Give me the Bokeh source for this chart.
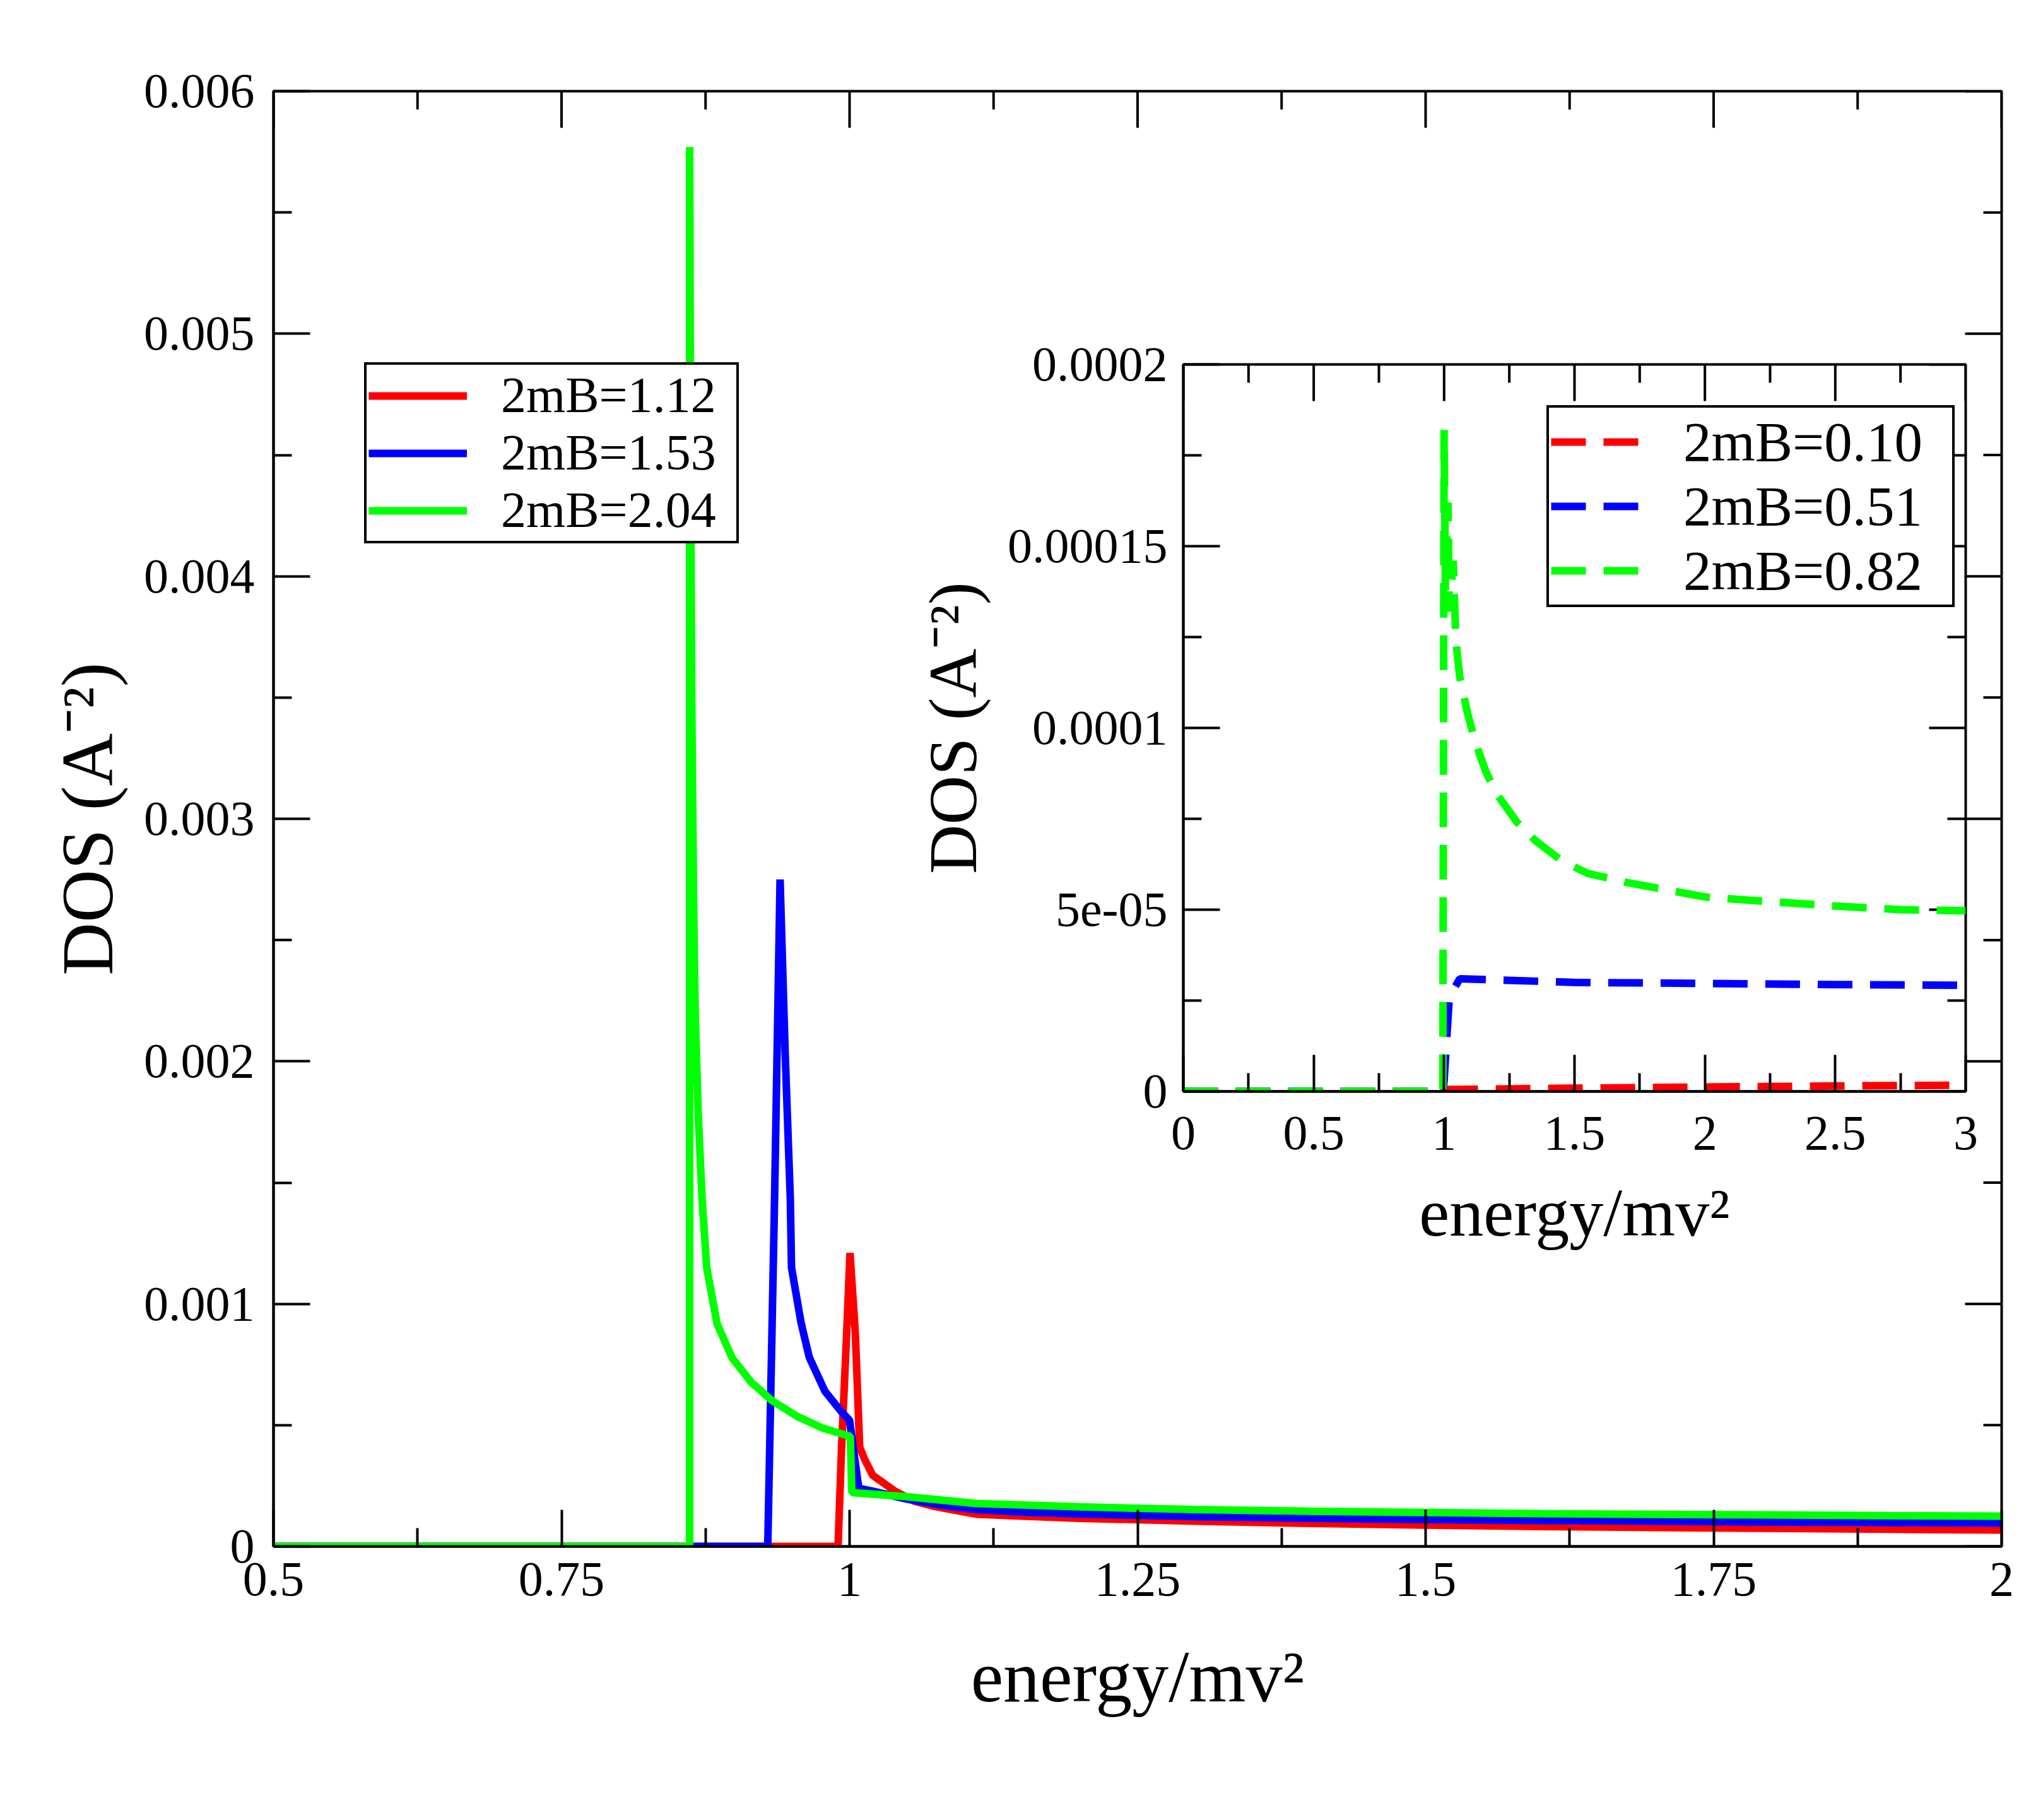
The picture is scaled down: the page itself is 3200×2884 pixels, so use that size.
import math
from bokeh.plotting import figure
from bokeh.models import FixedTicker, Legend, LegendItem, Range1d
from bokeh.layouts import column
from bokeh.embed import file_html
from bokeh.resources import INLINE

# ---------------- data: main panel ----------------
main_red_x = [0.5, 0.99, 0.993, 0.9975, 1.0004, 1.005, 1.0088, 1.013, 1.02, 1.039,
              1.0565, 1.0745, 1.11, 1.15, 1.2, 1.3, 1.4, 1.5, 1.6, 1.75, 1.9, 2.0]
main_red_y = [0.0, 0.0, 0.0004, 0.00088, 0.00121, 0.00088, 0.00041, 0.00036, 0.000294, 0.000229,
              0.000186, 0.000164, 0.000133, 0.000125, 0.000116, 0.000104, 0.000095, 0.000088,
              0.000082, 0.000076, 0.000071, 0.0000676]

main_blue_x = [0.5, 0.929, 0.9349, 0.9397, 0.944, 0.9486, 0.9496, 0.958, 0.965, 0.9786,
               0.993, 1.0, 1.008, 1.02, 1.05, 1.08, 1.11, 1.15, 1.2, 1.3, 1.4, 1.5, 1.6,
               1.75, 1.9, 2.0]
main_blue_y = [0.0, 0.0, 0.00143, 0.00275, 0.00205, 0.00143, 0.00115, 0.00092, 0.00078, 0.00064,
               0.000555, 0.00052, 0.00024, 0.000228, 0.000195, 0.00017, 0.000152, 0.000142,
               0.000134, 0.000123, 0.000116, 0.000111, 0.000107, 0.000102, 0.000099, 0.0000963]

main_green_x = [0.5, 0.8612, 0.8612, 0.862, 0.863, 0.8645, 0.866, 0.8686, 0.872, 0.876,
                0.885, 0.898, 0.9146, 0.9327, 0.9546, 0.976, 0.998, 1.0006, 1.002, 1.05,
                1.11, 1.2, 1.3, 1.4, 1.5, 1.6, 1.75, 1.9, 2.0]
main_green_y = [0.0, 0.0, 0.00577, 0.0045, 0.0035, 0.0027, 0.0022, 0.00179, 0.00143, 0.00115,
                0.000918, 0.000778, 0.000677, 0.000601, 0.000536, 0.000489, 0.000457, 0.000455,
                0.000222, 0.000205, 0.000177, 0.000163, 0.000152, 0.000145, 0.00014, 0.000135,
                0.000131, 0.000127, 0.000125]

main_labels = ["2mB=1.12", "2mB=1.53", "2mB=2.04"]

main_x_ticks = [0.5, 0.75, 1.0, 1.25, 1.5, 1.75, 2.0]
main_x_tick_labels = ["0.5", "0.75", "1", "1.25", "1.5", "1.75", "2"]
main_y_ticks = [0.0, 0.001, 0.002, 0.003, 0.004, 0.005, 0.006]
main_y_tick_labels = ["0", "0.001", "0.002", "0.003", "0.004", "0.005", "0.006"]

# ---------------- data: inset panel ----------------
inset_red_x = [0.0, 1.0, 1.0, 1.5, 2.0, 2.5, 3.0]
inset_red_y = [0.0, 0.0, 0.0000005, 0.0000009, 0.0000012, 0.0000015, 0.0000017]

inset_blue_x = [0.0, 0.995, 1.0, 1.02, 1.06, 1.5, 2.0, 2.5, 3.0]
inset_blue_y = [0.0, 0.0, 0.000003, 0.000026, 0.000031, 0.0000300, 0.0000297, 0.0000294, 0.0000292]

inset_green_x = [0.0, 0.995, 1.0, 1.005, 1.015, 1.02, 1.035, 1.045, 1.06, 1.09, 1.12, 1.16,
                 1.2, 1.28, 1.35, 1.45, 1.55, 1.7, 1.85, 2.0, 2.25, 2.5, 2.75, 3.0]
inset_green_y = [0.0, 0.0, 0.000182, 0.000138, 0.000162, 0.000132, 0.000146, 0.000124,
                 0.000114, 0.000104, 0.000096, 0.000088, 0.000082, 0.000074, 0.000069,
                 0.0000635, 0.00006, 0.0000575, 0.0000555, 0.0000535, 0.0000522, 0.000051,
                 0.00005, 0.0000497]

inset_labels = ["2mB=0.10", "2mB=0.51", "2mB=0.82"]

inset_x_ticks = [0.0, 0.5, 1.0, 1.5, 2.0, 2.5, 3.0]
inset_x_tick_labels = ["0", "0.5", "1", "1.5", "2", "2.5", "3"]
inset_y_ticks = [0.0, 0.00005, 0.0001, 0.00015, 0.0002]
inset_y_tick_labels = ["0", "5e-05", "0.0001", "0.00015", "0.0002"]

colors = ["#ff0000", "#0000ff", "#00ff00"]

FONT = "Liberation Serif"
MAJ, MIN_, TW = 58, 29, 4


def midpoints(t):
    return [(a + b) / 2 for a, b in zip(t[:-1], t[1:])]


def style_axis(ax, ticks, labels, label_size, standoff):
    ax.ticker = FixedTicker(ticks=ticks, minor_ticks=midpoints(ticks))
    ax.axis_line_width = TW
    ax.axis_line_color = "black"
    ax.major_tick_in = MAJ
    ax.major_tick_out = 0
    ax.minor_tick_in = MIN_
    ax.minor_tick_out = 0
    ax.major_tick_line_width = TW
    ax.minor_tick_line_width = TW
    ax.major_tick_line_color = "black"
    ax.minor_tick_line_color = "black"
    ax.major_label_text_font = FONT
    ax.major_label_text_color = "black"
    ax.major_label_standoff = standoff
    ax.major_label_overrides = dict(zip(ticks, labels))
    ax.major_label_text_font_size = label_size
    ax.axis_label_text_font = FONT
    ax.axis_label_text_font_style = "normal"
    ax.axis_label_text_color = "black"


def mirror_ticks(fig, xt, yt, xmax, ymax):
    # inward ticks on the top and right edges of the frame
    for xs, ln in [(xt, MAJ), (midpoints(xt), MIN_)]:
        fig.ray(x=xs, y=[ymax] * len(xs), length=ln, length_units="screen",
                angle=-math.pi / 2, line_width=TW, line_color="black")
    for ys, ln in [(yt, MAJ), (midpoints(yt), MIN_)]:
        fig.ray(x=[xmax] * len(ys), y=ys, length=ln, length_units="screen",
                angle=math.pi, line_width=TW, line_color="black")


def build_panel(fig, xt, xl, yt, yl, xlabel, ylabel, lab_size, axlab_size,
                xstand, ystand, xlstand, ylstand):
    fig.xgrid.visible = False
    fig.ygrid.visible = False
    fig.outline_line_color = "black"
    fig.outline_line_width = TW
    fig.outline_line_alpha = 1.0
    xa = fig.xaxis[0]
    ya = fig.yaxis[0]
    style_axis(xa, xt, xl, lab_size, xstand)
    style_axis(ya, yt, yl, lab_size, ystand)
    xa.axis_label = xlabel
    ya.axis_label = ylabel
    xa.axis_label_text_font_size = axlab_size
    ya.axis_label_text_font_size = axlab_size
    xa.axis_label_standoff = xlstand
    ya.axis_label_standoff = ylstand
    mirror_ticks(fig, xt, yt, xt[-1], yt[-1])


def style_legend(leg, size, padding, glyph_w, standoff, label_w):
    leg.border_line_color = "black"
    leg.border_line_width = 4
    leg.border_line_alpha = 1.0
    leg.background_fill_color = "white"
    leg.background_fill_alpha = 1.0
    leg.label_text_font = FONT
    leg.label_text_font_size = size
    leg.label_text_color = "black"
    leg.glyph_width = glyph_w
    leg.glyph_height = 40
    leg.label_standoff = standoff
    leg.label_width = label_w
    leg.padding = padding
    leg.spacing = 0
    leg.margin = 0


# Side borders shared by both stacked figures (the column aligns them).
BL, BR = 433, 20

# ---------------- main figure ----------------
W, H = 3192, 2850
p = figure(width=W, height=H, x_range=Range1d(0.5, 2.0), y_range=Range1d(0.0, 0.006),
           output_backend="svg", toolbar_location=None,
           min_border_left=BL, min_border_right=BR, min_border_top=144, min_border_bottom=400)
p.background_fill_color = "white"
p.border_fill_color = "white"
build_panel(p, main_x_ticks, main_x_tick_labels, main_y_ticks, main_y_tick_labels,
            "energy/mv\u00b2", "DOS (A\u207b\u00b2)", "78px", "116px", 26, 30, 62, 22)

rm = []
for xs, ys, c in [(main_red_x, main_red_y, colors[0]),
                  (main_blue_x, main_blue_y, colors[1]),
                  (main_green_x, main_green_y, colors[2])]:
    rm.append(p.line(xs, ys, line_color=c, line_width=12))

leg_main = Legend(items=[LegendItem(label=l, renderers=[r]) for l, r in zip(main_labels, rm)],
                  location=(144, 1589))
style_legend(leg_main, "80px", 3, 156, 54, 370)
p.add_layout(leg_main)

# ---------------- inset figure ----------------
IFL, IFT, IFR, IFB = 1875, 577, 3115, 1729  # target inset frame edges on the page
IBT, IBB = 60, 340
IL, IT = IFL - BL, IFT - IBT
IW, IH = BL + (IFR - IFL) + BR, IBT + (IFB - IFT) + IBB
q = figure(width=IW, height=IH, x_range=Range1d(0.0, 3.0), y_range=Range1d(0.0, 0.0002),
           output_backend="svg", toolbar_location=None,
           min_border_left=BL, min_border_right=BR, min_border_top=IBT, min_border_bottom=IBB,
           margin=(IT - H, 0, 0, IL))
q.background_fill_color = "white"
q.border_fill_alpha = 0.0
build_panel(q, inset_x_ticks, inset_x_tick_labels, inset_y_ticks, inset_y_tick_labels,
            "energy/mv\u00b2", "DOS (A\u207b\u00b2)", "78px", "108px", 40, 25, 38, 24)

ri = []
for xs, ys, c in [(inset_red_x, inset_red_y, colors[0]),
                  (inset_blue_x, inset_blue_y, colors[1]),
                  (inset_green_x, inset_green_y, colors[2])]:
    ri.append(q.line(xs, ys, line_color=c, line_width=12, line_dash="55 28"))

leg_in = Legend(items=[LegendItem(label=l, renderers=[r]) for l, r in zip(inset_labels, ri)],
                location=(576, 767))
style_legend(leg_in, "89px", 3, 155, 55, 423)
q.add_layout(leg_in)

layout = column(p, q)
open("out.html", "w").write(file_html(layout, INLINE))
